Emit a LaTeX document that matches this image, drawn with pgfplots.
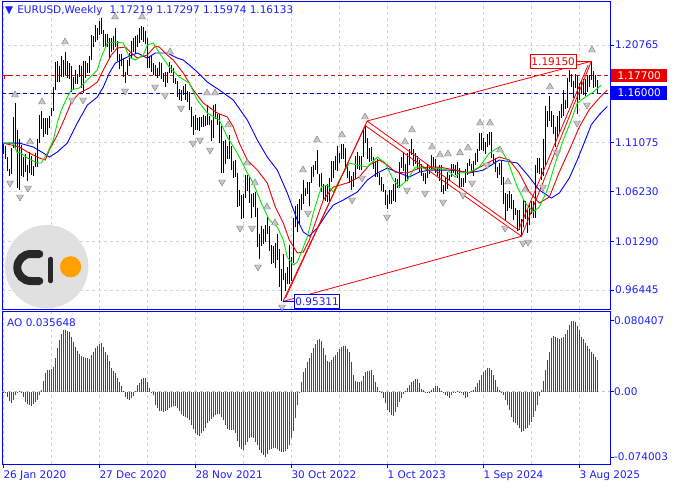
\documentclass[border=0pt]{standalone}
\usepackage{pgfplots}
\pgfplotsset{compat=1.18}
\usepackage{pgfplotstable}
\usepackage{fontspec}
\setmainfont{DejaVu Sans}
\definecolor{mtblue}{RGB}{0,0,255}
\definecolor{mttext}{RGB}{30,30,255}
\definecolor{mtgrid}{RGB}{212,212,212}
\definecolor{aogreen}{RGB}{0,128,0}
\definecolor{aored}{RGB}{232,0,0}
\definecolor{lips}{RGB}{0,230,0}
\definecolor{teeth}{RGB}{240,0,0}
\definecolor{jaw}{RGB}{0,0,235}
\definecolor{frac}{RGB}{200,200,200}
\definecolor{fracd}{RGB}{125,125,125}
\definecolor{logogray}{RGB}{224,224,224}
\definecolor{logodark}{RGB}{40,40,40}
\definecolor{logoorange}{RGB}{255,160,0}
\newcommand\lab{\fontsize{10.5}{12.6}\selectfont}

\pgfplotstableread{
i h l
0 1.1095 1.0992
1 1.1070 1.0940
2 1.0965 1.0827
3 1.0850 1.0778
4 1.1053 1.0800
5 1.1357 1.1050
6 1.1496 1.1055
7 1.1237 1.0654
8 1.1147 1.0636
9 1.1080 1.0780
10 1.0960 1.0768
11 1.0990 1.0812
12 1.0890 1.0727
13 1.1019 1.0810
14 1.0970 1.0782
15 1.0875 1.0775
16 1.1009 1.0870
17 1.1147 1.0870
18 1.1384 1.1100
19 1.1422 1.1240
20 1.1350 1.1168
21 1.1350 1.1190
22 1.1350 1.1185
23 1.1375 1.1250
24 1.1452 1.1370
25 1.1660 1.1425
26 1.1908 1.1625
27 1.1916 1.1710
28 1.1870 1.1710
29 1.1966 1.1755
30 1.1928 1.1760
31 1.2011 1.1780
32 1.1917 1.1752
33 1.1901 1.1737
34 1.1872 1.1612
35 1.1755 1.1640
36 1.1830 1.1685
37 1.1790 1.1690
38 1.1880 1.1760
39 1.1870 1.1650
40 1.1920 1.1603
41 1.1920 1.1745
42 1.1895 1.1800
43 1.1965 1.1800
44 1.2177 1.1925
45 1.2163 1.2060
46 1.2272 1.2110
47 1.2250 1.2130
48 1.2310 1.2175
49 1.2349 1.2190
50 1.2222 1.2054
51 1.2190 1.2055
52 1.2190 1.2060
53 1.2150 1.1952
54 1.2150 1.2010
55 1.2170 1.2022
56 1.2243 1.2060
57 1.2113 1.1913
58 1.1990 1.1835
59 1.1990 1.1873
60 1.1945 1.1762
61 1.1813 1.1704
62 1.1927 1.1780
63 1.1995 1.1870
64 1.2117 1.1950
65 1.2150 1.2010
66 1.2167 1.1986
67 1.2180 1.2052
68 1.2245 1.2100
69 1.2266 1.2130
70 1.2255 1.2105
71 1.2218 1.2090
72 1.2150 1.1847
73 1.1970 1.1850
74 1.1975 1.1807
75 1.1895 1.1780
76 1.1880 1.1772
77 1.1850 1.1752
78 1.1909 1.1770
79 1.1900 1.1740
80 1.1800 1.1705
81 1.1805 1.1664
82 1.1810 1.1695
83 1.1909 1.1795
84 1.1880 1.1800
85 1.1845 1.1700
86 1.1750 1.1685
87 1.1720 1.1563
88 1.1640 1.1529
89 1.1625 1.1524
90 1.1669 1.1580
91 1.1692 1.1535
92 1.1616 1.1513
93 1.1610 1.1433
94 1.1465 1.1264
95 1.1375 1.1186
96 1.1383 1.1235
97 1.1355 1.1228
98 1.1360 1.1222
99 1.1360 1.1265
100 1.1386 1.1265
101 1.1368 1.1272
102 1.1482 1.1285
103 1.1370 1.1285
104 1.1330 1.1121
105 1.1483 1.1155
106 1.1495 1.1340
107 1.1395 1.1280
108 1.1390 1.1106
109 1.1270 1.0805
110 1.1121 1.0806
111 1.1138 1.0900
112 1.1070 1.0945
113 1.1185 1.0945
114 1.1070 1.0836
115 1.0925 1.0757
116 1.0936 1.0770
117 1.0810 1.0470
118 1.0641 1.0483
119 1.0590 1.0350
120 1.0600 1.0355
121 1.0787 1.0560
122 1.0786 1.0627
123 1.0774 1.0510
124 1.0601 1.0359
125 1.0606 1.0470
126 1.0615 1.0365
127 1.0463 1.0071
128 1.0200 0.9952
129 1.0278 1.0077
130 1.0254 1.0097
131 1.0294 1.0123
132 1.0368 1.0198
133 1.0280 1.0035
134 1.0090 0.9900
135 1.0080 0.9910
136 1.0112 0.9864
137 1.0198 0.9945
138 1.0050 0.9670
139 0.9855 0.9531
140 0.9999 0.9740
141 0.9810 0.9632
142 0.9875 0.9705
143 1.0094 0.9700
144 0.9977 0.9730
145 1.0362 0.9912
146 1.0481 1.0272
147 1.0497 1.0223
148 1.0545 1.0290
149 1.0595 1.0443
150 1.0736 1.0500
151 1.0660 1.0575
152 1.0714 1.0600
153 1.0713 1.0483
154 1.0870 1.0710
155 1.0888 1.0766
156 1.0930 1.0835
157 1.1033 1.0792
158 1.0800 1.0669
159 1.0805 1.0613
160 1.0700 1.0533
161 1.0690 1.0525
162 1.0700 1.0516
163 1.0760 1.0516
164 1.0930 1.0713
165 1.0925 1.0760
166 1.0973 1.0837
167 1.1075 1.0830
168 1.1000 1.0910
169 1.1095 1.0942
170 1.1092 1.0942
171 1.1053 1.0848
172 1.0905 1.0760
173 1.0830 1.0702
174 1.0780 1.0635
175 1.0820 1.0666
176 1.0970 1.0750
177 1.1012 1.0845
178 1.0976 1.0835
179 1.0975 1.0833
180 1.1245 1.0960
181 1.1276 1.1100
182 1.1149 1.0945
183 1.1050 1.0912
184 1.1065 1.0925
185 1.0960 1.0845
186 1.0930 1.0765
187 1.0945 1.0770
188 1.0810 1.0686
189 1.0768 1.0632
190 1.0700 1.0617
191 1.0640 1.0488
192 1.0590 1.0448
193 1.0640 1.0495
194 1.0640 1.0500
195 1.0695 1.0525
196 1.0756 1.0516
197 1.0750 1.0656
198 1.0913 1.0660
199 1.0965 1.0852
200 1.1017 1.0828
201 1.0895 1.0723
202 1.1009 1.0723
203 1.1040 1.0886
204 1.1140 1.0985
205 1.1047 1.0877
206 1.1000 1.0900
207 1.0970 1.0845
208 1.0932 1.0813
209 1.0895 1.0780
210 1.0810 1.0722
211 1.0805 1.0695
212 1.0888 1.0760
213 1.0865 1.0795
214 1.0981 1.0835
215 1.0963 1.0868
216 1.0943 1.0802
217 1.0865 1.0775
218 1.0885 1.0725
219 1.0885 1.0622
220 1.0690 1.0601
221 1.0752 1.0624
222 1.0812 1.0650
223 1.0790 1.0723
224 1.0895 1.0765
225 1.0895 1.0805
226 1.0890 1.0788
227 1.0916 1.0760
228 1.0852 1.0668
229 1.0761 1.0670
230 1.0760 1.0666
231 1.0850 1.0710
232 1.0910 1.0790
233 1.0948 1.0880
234 1.0900 1.0825
235 1.0926 1.0777
236 1.1008 1.0881
237 1.1047 1.0917
238 1.1201 1.1025
239 1.1200 1.1036
240 1.1155 1.1025
241 1.1110 1.0999
242 1.1190 1.1068
243 1.1214 1.1080
244 1.1210 1.0950
245 1.0990 1.0910
246 1.0950 1.0811
247 1.0870 1.0761
248 1.0905 1.0788
249 1.0937 1.0682
250 1.0770 1.0496
251 1.0610 1.0332
252 1.0596 1.0425
253 1.0630 1.0460
254 1.0594 1.0452
255 1.0536 1.0343
256 1.0456 1.0385
257 1.0436 1.0226
258 1.0437 1.0236
259 1.0350 1.0178
260 1.0533 1.0265
261 1.0532 1.0345
262 1.0440 1.0210
263 1.0513 1.0285
264 1.0530 1.0400
265 1.0530 1.0360
266 1.0888 1.0360
267 1.0955 1.0805
268 1.0955 1.0797
269 1.0858 1.0733
270 1.1147 1.0778
271 1.1474 1.0882
272 1.1423 1.1265
273 1.1573 1.1320
274 1.1425 1.1265
275 1.1380 1.1194
276 1.1267 1.1065
277 1.1376 1.1160
278 1.1419 1.1210
279 1.1495 1.1350
280 1.1631 1.1375
281 1.1530 1.1445
282 1.1753 1.1450
283 1.1829 1.1710
284 1.1790 1.1660
285 1.1720 1.1555
286 1.1789 1.1650
287 1.1770 1.1392
288 1.1700 1.1528
289 1.1730 1.1590
290 1.1742 1.1585
291 1.1742 1.1573
292 1.1780 1.1608
293 1.1780 1.1660
294 1.1915 1.1730
295 1.1820 1.1645
296 1.1779 1.1655
297 1.1730 1.1597
}\price

\pgfplotstableread{
i v c
0 -0.00113 0
1 -0.00189 0
2 -0.00566 0
3 -0.01057 0
4 -0.01321 0
5 -0.00944 1
6 -0.00378 1
7 -0.00151 1
8 0.00076 1
9 -0.00038 0
10 -0.00566 0
11 -0.01133 0
12 -0.01435 0
13 -0.01510 0
14 -0.01586 0
15 -0.01435 1
16 -0.01133 1
17 -0.00944 1
18 -0.00378 1
19 0.00189 1
20 0.01208 1
21 0.02076 1
22 0.02454 1
23 0.02492 1
24 0.02529 1
25 0.02831 1
26 0.03775 1
27 0.04908 1
28 0.05851 1
29 0.06493 1
30 0.06984 1
31 0.07022 1
32 0.06871 0
33 0.06720 0
34 0.06229 0
35 0.05663 0
36 0.05096 0
37 0.04606 0
38 0.04228 0
39 0.04077 0
40 0.03964 0
41 0.03851 0
42 0.03775 0
43 0.03700 0
44 0.04153 1
45 0.04530 1
46 0.04908 1
47 0.05210 1
48 0.05361 1
49 0.05474 1
50 0.05096 0
51 0.04530 0
52 0.04153 0
53 0.03473 0
54 0.02643 0
55 0.02378 0
56 0.02076 0
57 0.01586 0
58 0.01133 0
59 0.00680 0
60 0.00076 0
61 -0.00566 0
62 -0.00868 0
63 -0.00906 0
64 -0.00755 1
65 -0.00453 1
66 0.00076 1
67 0.00755 1
68 0.00944 1
69 0.01435 1
70 0.01510 1
71 0.01586 1
72 0.01133 0
73 0.00453 0
74 -0.00076 0
75 -0.00378 0
76 -0.01510 0
77 -0.01888 0
78 -0.02190 0
79 -0.02227 0
80 -0.02265 0
81 -0.02190 1
82 -0.02076 1
83 -0.01888 1
84 -0.01737 1
85 -0.01623 1
86 -0.01586 1
87 -0.01812 0
88 -0.02190 0
89 -0.02567 0
90 -0.02718 0
91 -0.02831 0
92 -0.02945 0
93 -0.03209 0
94 -0.03775 0
95 -0.04228 0
96 -0.04719 0
97 -0.04908 0
98 -0.04983 0
99 -0.04719 1
100 -0.04455 1
101 -0.04077 1
102 -0.03586 1
103 -0.03322 1
104 -0.03096 1
105 -0.02831 1
106 -0.02643 1
107 -0.02492 1
108 -0.02567 0
109 -0.02831 0
110 -0.03209 0
111 -0.03775 0
112 -0.04228 0
113 -0.04304 0
114 -0.04341 0
115 -0.04379 0
116 -0.04719 0
117 -0.05587 0
118 -0.06229 0
119 -0.06493 0
120 -0.06569 0
121 -0.06040 1
122 -0.05663 1
123 -0.05285 1
124 -0.05096 1
125 -0.05210 0
126 -0.05663 0
127 -0.06040 0
128 -0.06606 0
129 -0.06984 0
130 -0.07173 0
131 -0.07400 0
132 -0.07097 1
133 -0.06606 1
134 -0.06493 1
135 -0.06418 1
136 -0.06380 1
137 -0.06493 0
138 -0.06720 0
139 -0.06795 0
140 -0.06871 0
141 -0.06720 1
142 -0.06493 1
143 -0.06040 1
144 -0.05285 1
145 -0.04455 1
146 -0.03020 1
147 -0.01510 1
148 -0.00189 1
149 0.01133 1
150 0.02265 1
151 0.02718 1
152 0.03398 1
153 0.03775 1
154 0.04341 1
155 0.04908 1
156 0.05361 1
157 0.05851 1
158 0.05965 1
159 0.05738 0
160 0.04908 0
161 0.04153 0
162 0.03473 0
163 0.03322 0
164 0.03586 1
165 0.03964 1
166 0.04153 1
167 0.04530 1
168 0.04832 1
169 0.05059 1
170 0.05210 1
171 0.05134 0
172 0.04832 0
173 0.04530 0
174 0.03398 0
175 0.01888 0
176 0.01208 0
177 0.01133 0
178 0.01057 0
179 0.01208 1
180 0.01812 1
181 0.02265 1
182 0.02341 1
183 0.02378 1
184 0.02454 1
185 0.01888 0
186 0.01133 0
187 0.00566 0
188 0.00076 0
189 -0.00189 0
190 -0.00755 0
191 -0.01321 0
192 -0.02076 0
193 -0.02341 0
194 -0.02643 0
195 -0.02756 0
196 -0.02265 1
197 -0.01699 1
198 -0.01133 1
199 -0.00755 1
200 -0.00302 1
201 0.00038 1
202 0.00378 1
203 0.00755 1
204 0.01057 1
205 0.01208 1
206 0.01435 1
207 0.01472 1
208 0.00944 0
209 0.00302 0
210 0.00151 0
211 -0.00038 0
212 -0.00113 0
213 -0.00151 0
214 0.00189 1
215 0.00378 1
216 0.00642 1
217 0.00680 1
218 0.00378 0
219 0.00076 0
220 -0.00151 0
221 -0.00378 0
222 -0.00491 0
223 -0.00680 0
224 -0.00378 1
225 -0.00113 1
226 -0.00038 1
227 0.00076 1
228 -0.00038 0
229 -0.00113 0
230 -0.00378 0
231 -0.00680 0
232 -0.00566 1
233 -0.00189 1
234 0.00076 1
235 0.00189 1
236 0.00566 1
237 0.00944 1
238 0.01321 1
239 0.01888 1
240 0.02265 1
241 0.02454 1
242 0.02643 1
243 0.02718 1
244 0.02454 0
245 0.01888 0
246 0.01321 0
247 0.00566 0
248 0.00189 0
249 -0.00076 0
250 -0.00378 0
251 -0.00944 0
252 -0.01510 0
253 -0.02076 0
254 -0.02831 0
255 -0.03398 0
256 -0.03586 0
257 -0.03775 0
258 -0.04153 0
259 -0.04606 0
260 -0.04455 1
261 -0.04228 1
262 -0.04077 1
263 -0.03775 1
264 -0.03398 1
265 -0.02831 1
266 -0.02190 1
267 -0.01510 1
268 -0.00453 1
269 0.00189 1
270 0.01208 1
271 0.02454 1
272 0.03586 1
273 0.04530 1
274 0.06040 1
275 0.06342 1
276 0.06229 0
277 0.06040 0
278 0.05965 0
279 0.06116 1
280 0.06229 1
281 0.06493 1
282 0.06984 1
283 0.07550 1
284 0.08003 1
285 0.08041 1
286 0.07928 0
287 0.07475 0
288 0.06984 0
289 0.06229 0
290 0.05965 0
291 0.05474 0
292 0.05210 0
293 0.04832 0
294 0.04530 0
295 0.04228 0
296 0.03888 0
297 0.03565 0
}\ao

\begin{document}
\begin{tikzpicture}
\useasboundingbox (0pt,0pt) rectangle (674pt,-488pt);
% ---------------- main price panel
\begin{axis}[
  at={(2.3pt,-1.7pt)}, anchor=north west,
  scale only axis, width=607.7pt, height=307.3pt,
  xmin=-0.5, xmax=303.35, ymin=0.94559, ymax=1.25063,
  axis line style={mtblue, line width=1pt},
  clip mode=individual,
  xtick={0,48,...,288}, minor x tick num=1, xticklabels={},
  major x tick style={draw=none}, minor x tick style={draw=none},
  ytick={0.96445,1.01290,1.06230,1.11075,1.1592,1.20765},
  yticklabels={0.96445,1.01290,1.06230,1.11075,,1.20765},
  ytick pos=right, yticklabel pos=right, tick align=outside,
  major tick length=4pt,
  y tick style={mtblue, line width=0.8pt},
  yticklabel style={anchor=west, font=\lab, text=mttext, inner xsep=1pt},
  grid=both,
  major grid style={mtgrid, dash pattern=on 3pt off 3pt, line width=0.7pt},
  minor grid style={mtgrid, dash pattern=on 3pt off 3pt, line width=0.7pt},
]
% horizontal levels
\addplot[teeth, line width=0.8pt, dash pattern=on 4pt off 3pt] coordinates {(-0.5,1.177) (303.35,1.177)};
\addplot[mtblue!75!black, line width=0.8pt, dash pattern=on 4pt off 3pt] coordinates {(-0.5,1.16) (303.35,1.16)};
% weekly bars (high-low)
\addplot[draw=none, mark=none, forget plot,
  error bars/.cd, y dir=minus, y explicit, error mark=none,
  error bar style={draw=black, line width=1.05pt}]
  table[x=i, y=h, y error minus expr=\thisrow{h}-\thisrow{l}] {\price};
% alligator: jaw, teeth, lips
\addplot[jaw, line width=0.9pt] coordinates {
(0,1.1103) (8,1.1103) (15,1.1064) (20,1.1004) (23,1.0964) (27,1.1014) (32,1.1103) (37,1.1302) (42,1.1480) (47,1.1560) (50,1.1659) (53,1.1798) (56,1.1898) (59,1.1927) (62,1.1957) (67,1.1997) (72,1.1947) (76,1.1997) (82,1.1997) (87,1.1947) (90,1.1927) (93,1.1878) (97,1.1808) (102,1.1709) (108,1.1630) (115,1.1530) (122,1.1332) (127,1.1133) (132,1.0964) (137,1.0835) (142,1.0607) (147,1.0339) (150,1.0220) (153,1.0180) (157,1.0260) (162,1.0409) (165,1.0488) (170,1.0538) (177,1.0617) (182,1.0736) (187,1.0806) (192,1.0855) (197,1.0815) (203,1.0766) (208,1.0815) (213,1.0835) (218,1.0835) (226,1.0835) (233,1.0806) (240,1.0835) (248,1.0935) (257,1.0905) (263,1.0766) (268,1.0637) (274,1.0557) (278,1.0607) (283,1.0756) (287,1.0935) (291,1.1133) (294,1.1285) (298,1.1386) (302,1.1466)};
\addplot[teeth, line width=0.9pt] coordinates {
(0,1.1103) (8,1.1064) (13,1.1004) (18,1.0955) (21,1.0935) (23,1.1034) (27,1.1183) (31,1.1362) (34,1.1510) (38,1.1600) (43,1.1650) (47,1.1709) (50,1.1828) (54,1.1977) (57,1.2047) (61,1.2056) (64,1.1997) (67,1.1947) (72,1.1977) (76,1.2066) (78,1.2056) (82,1.1977) (85,1.1927) (90,1.1798) (95,1.1630) (100,1.1500) (107,1.1401) (112,1.1362) (115,1.1262) (118,1.1103) (122,1.0935) (127,1.0836) (132,1.0706) (136,1.0468) (140,1.0309) (143,1.0141) (147,1.0012) (150,1.0021) (153,1.0141) (157,1.0369) (160,1.0538) (165,1.0667) (172,1.0707) (178,1.0766) (183,1.0885) (188,1.0935) (192,1.0885) (196,1.0815) (202,1.0806) (208,1.0855) (213,1.0865) (218,1.0865) (226,1.0835) (233,1.0806) (242,1.0905) (248,1.0964) (253,1.0935) (258,1.0806) (263,1.0617) (268,1.0508) (273,1.0567) (278,1.0815) (283,1.1033) (288,1.1262) (293,1.1436) (298,1.1550) (302,1.1630)};
\addplot[lips, line width=0.9pt] coordinates {
(0,1.1103) (5,1.1103) (7,1.1004) (8,1.1014) (12,1.0955) (17,1.0905) (19,1.0905) (22,1.1004) (25,1.1133) (27,1.1302) (29,1.1431) (32,1.1560) (34,1.1630) (38,1.1650) (43,1.1749) (47,1.1828) (49,1.1957) (52,1.2096) (56,1.2106) (60,1.2096) (63,1.1957) (66,1.1927) (70,1.1977) (72,1.2076) (75,1.2096) (78,1.1997) (83,1.1858) (88,1.1759) (93,1.1699) (97,1.1530) (102,1.1401) (108,1.1332) (112,1.1163) (117,1.1004) (122,1.0806) (125,1.0706) (129,1.0508) (133,1.0339) (137,1.0270) (140,1.0141) (142,0.9972) (145,0.9892) (147,0.9922) (149,1.0021) (152,1.0170) (155,1.0409) (159,1.0667) (162,1.0687) (165,1.0617) (168,1.0736) (173,1.0905) (177,1.0885) (182,1.0865) (187,1.0964) (191,1.0905) (195,1.0736) (198,1.0667) (202,1.0736) (206,1.0865) (209,1.0865) (212,1.0835) (217,1.0855) (222,1.0835) (226,1.0766) (228,1.0806) (233,1.0815) (238,1.0865) (243,1.1004) (248,1.1064) (252,1.0935) (257,1.0667) (261,1.0508) (265,1.0419) (268,1.0468) (272,1.0637) (276,1.0905) (280,1.1133) (284,1.1332) (287,1.1500) (291,1.1560) (295,1.1610) (299,1.1679)};
% zigzag and channel
\addplot[teeth, line width=0.8pt] coordinates {(139.85,0.9531) (181,1.1276) (259.1,1.0178) (294,1.1915)};
\addplot[teeth, line width=0.8pt] coordinates {(141.1,0.9565) (181.9,1.1322) (257.6,1.0240) (292.4,1.1878)};
\addplot[teeth, line width=0.8pt] coordinates {(139.85,0.9531) (259.1,1.0178)};
\addplot[teeth, line width=0.8pt] coordinates {(181.9,1.1322) (294,1.1915)};
% fractals
\addplot[only marks, mark=triangle*, mark size=4pt, mark options={fill=frac, draw=fracd, line width=0.4pt}] coordinates {
(5.85,1.1580) (19.35,1.1511) (13.35,1.1114) (30.85,1.2106) (55.85,1.2355) (69.35,1.2355) (83.35,1.2007) (101.85,1.1600) (105.85,1.1600) (112.35,1.1282) (121.85,1.0905) (125.85,1.0707) (131.85,1.0468) (135.85,1.0310) (149.85,1.0836) (156.85,1.1134) (169.35,1.1183) (180.85,1.1362) (200.85,1.1114) (204.35,1.1233) (214.35,1.1064) (218.35,1.0985) (222.35,1.0995) (228.35,1.1005) (232.35,1.1054) (238.35,1.1302) (243.35,1.1302) (248.35,1.1034) (252.35,1.0717) (260.85,1.0637) (273.35,1.1660) (294.35,1.2027)};
\addplot[only marks, mark=triangle*, mark size=4pt, mark options={fill=frac, draw=fracd, line width=0.4pt, rotate=180}] coordinates {
(3.35,1.0707) (8.35,1.0568) (12.35,1.0657) (34.35,1.1531) (39.85,1.1531) (60.85,1.1620) (75.85,1.1660) (80.85,1.1580) (88.85,1.1451) (94.85,1.1104) (98.35,1.1134) (103.35,1.1034) (109.35,1.0717) (118.35,1.0260) (124.35,1.0260) (127.35,0.9873) (139.35,0.9476) (152.35,1.0409) (174.35,1.0538) (179.35,1.0756) (191.85,1.0369) (201.85,1.0637) (210.85,1.0607) (219.85,1.0518) (229.85,1.0588) (234.35,1.0707) (241.85,1.0885) (250.85,1.0260) (259.85,1.0111) (262.35,1.0121) (269.85,1.0667) (276.85,1.1005) (286.85,1.1302) (291.85,1.1481)};
% labels
\draw[teeth, line width=0.8pt] (axis cs:294,1.1915) -- ++(-15pt,0pt) node[anchor=east, draw=teeth, fill=white, text=teeth, inner xsep=1pt, inner ysep=0pt, minimum height=14pt, line width=0.8pt] {\lab 1.19150};
\draw[mtblue, line width=0.8pt] (axis cs:139.85,0.9531) -- ++(11pt,0pt) node[anchor=west, draw=mtblue, fill=white, text=mttext, inner xsep=1pt, inner ysep=0pt, minimum height=14pt, line width=0.8pt] {\lab 0.95311};
\node[anchor=west, fill=aored, text=white, inner xsep=6.5pt, inner ysep=0pt, minimum height=13pt, xshift=0.8pt] at (axis cs:303.35,1.177) {\lab 1.17700};
\node[anchor=west, fill=mtblue, text=white, inner xsep=6.5pt, inner ysep=0pt, minimum height=14pt, xshift=0.8pt] at (axis cs:303.35,1.16) {\lab 1.16000};
\end{axis}
% ---------------- AO panel
\begin{axis}[
  at={(2.3pt,-311pt)}, anchor=north west,
  scale only axis, width=607.7pt, height=153pt,
  xmin=-0.5, xmax=303.35, ymin=-0.08188, ymax=0.09139,
  scaled y ticks=false,
  axis line style={mtblue, line width=1pt},
  xtick={0,48,...,288}, minor x tick num=1,
  xticklabels={26 Jan 2020,27 Dec 2020,28 Nov 2021,30 Oct 2022,1 Oct 2023,1 Sep 2024,3 Aug 2025},
  xtick pos=bottom, minor x tick style={draw=none},
  x tick style={mtblue, line width=0.8pt},
  xticklabel style={anchor=north west, font=\lab, text=mttext, inner xsep=0pt, inner ysep=2pt},
  ytick={-0.074003,0,0.080407},
  yticklabels={-0.074003,0.00,0.080407},
  ytick pos=right, yticklabel pos=right, tick align=outside,
  major tick length=4pt,
  y tick style={mtblue, line width=0.8pt},
  yticklabel style={anchor=west, font=\lab, text=mttext, inner xsep=0pt},
  xmajorgrids, xminorgrids,
  major grid style={mtgrid, dash pattern=on 3pt off 3pt, line width=0.7pt},
  minor grid style={mtgrid, dash pattern=on 3pt off 3pt, line width=0.7pt},
]
\addplot[mtgrid!80!gray, dash pattern=on 3pt off 3pt, line width=0.7pt] coordinates {(-0.5,0) (303.35,0)};
\addplot[forget plot, draw=none, mark=none, restrict expr to domain={\thisrow{c}}{0.5:1.5},
  error bars/.cd, y dir=minus, y explicit, error mark=none,
  error bar style={draw=aogreen, line width=1.05pt}]
  table[x=i, y=v, y error minus expr=\thisrow{v}] {\ao};
\addplot[forget plot, draw=none, mark=none, restrict expr to domain={\thisrow{c}}{-0.5:0.5},
  error bars/.cd, y dir=minus, y explicit, error mark=none,
  error bar style={draw=aored, line width=1.05pt}]
  table[x=i, y=v, y error minus expr=\thisrow{v}] {\ao};
\end{axis}
% ---------------- titles and decorations
\node[anchor=west, text=mttext, inner sep=0pt] at (5pt,-11pt) {\lab ▼\hspace{4pt}EURUSD,Weekly\hspace{7pt}1.17219 1.17297 1.15974 1.16133};
\node[anchor=west, text=mttext, inner sep=0pt] at (7pt,-322.5pt) {\lab AO 0.035648};
\draw[teeth, line width=0.8pt] (4.5pt,-79pt) -- (4.5pt,-75.5pt) -- (8.5pt,-75.5pt);
% logo
\fill[logogray] (46.7pt,-266.7pt) circle (41.7pt);
\draw[logodark, line width=8pt, line cap=round] (39.3pt,-254pt) -- (30.8pt,-254pt) arc[start angle=90, end angle=270, radius=13.5pt] -- (39.3pt,-281pt);
\draw[logodark, line width=5pt, line cap=round] (50.8pt,-259.2pt) -- (50.8pt,-280.8pt);
\fill[logoorange] (70.6pt,-266.8pt) circle (10.6pt);
\end{tikzpicture}
\end{document}
